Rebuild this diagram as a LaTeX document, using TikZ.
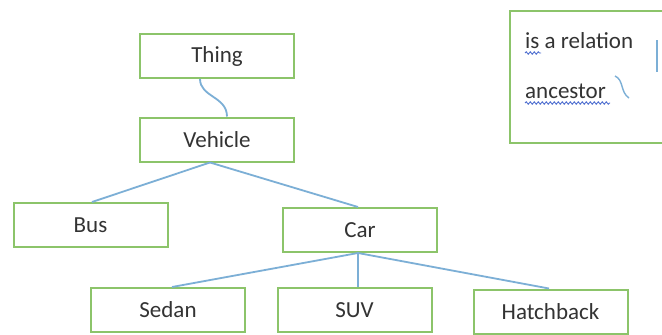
\documentclass[tikz,border=0pt]{standalone}
\usepackage{fontspec}
\setmainfont{Carlito}
\usetikzlibrary{decorations.pathmorphing}
\definecolor{boxgreen}{HTML}{8CC46A}
\definecolor{linkblue}{HTML}{7CAFD6}
\definecolor{txtgray}{HTML}{333333}
\definecolor{spellblue}{HTML}{4F6FD0}
\tikzset{
  classbox/.style={draw=boxgreen, line width=2pt, fill=white, minimum width=154pt, minimum height=44pt, inner sep=0pt, text=txtgray, font=\fontsize{23}{27}\selectfont},
  link/.style={draw=linkblue, line width=1.8pt},
  lbl/.style={inner sep=0pt, anchor=base west, text=txtgray, font=\fontsize{23}{27}\selectfont},
  spell/.style={draw=spellblue, line width=0.9pt, decorate, decoration={snake, amplitude=1.2pt, segment length=4pt}}
}
\begin{document}
\begin{tikzpicture}[x=1pt,y=-1pt]
\useasboundingbox (0,0) rectangle (662,335);
\clip (0,0) rectangle (662,335);
\fill[white] (0,0) rectangle (662,335);
% nodes
\node[classbox] (thing) at (217,56) {Thing};
\node[classbox] (vehicle) at (217,139.5) {Vehicle};
\node[classbox] (bus) at (90.5,225) {Bus};
\node[classbox] (car) at (360,230) {Car};
\node[classbox] (sedan) at (168,310) {Sedan};
\node[classbox] (suv) at (354.5,310) {SUV};
\node[classbox] (hatch) at (550.5,311.5) {Hatchback};
% legend
\node[draw=boxgreen, line width=2pt, minimum width=170pt, minimum height=132pt, inner sep=0pt, anchor=north west] (legend) at (509,10) {};
\node[lbl] (rel) at (525,48) {is a relation};
\node[lbl] (anc) at (525,98) {ancestor};
\coordinate (relA) at (657,40);
\coordinate (relB) at (657,72);
\draw[link, line width=1.4pt] (relA) -- (relB);
\coordinate (ancA) at (615,76);
\coordinate (ancB) at (629,98);
\draw[link, line width=1.4pt] (ancA) .. controls (624,80) and (620,92) .. (ancB);
\draw[spell] ([yshift=-5pt]rel.base west) -- ++(16,0);
\draw[spell] ([yshift=-5pt]anc.base west) -- ++(85,0);
% connectors
\draw[link] ([xshift=-17pt]thing.south) .. controls +(0,18) and +(0,-20) .. ([xshift=10pt]vehicle.north);
\draw[link] ([xshift=-7pt]vehicle.south) -- ([xshift=1.5pt]bus.north);
\draw[link] ([xshift=-7pt]vehicle.south) -- ([xshift=-2pt]car.north);
\draw[link] ([xshift=-2pt]car.south) -- ([xshift=4pt]sedan.north);
\draw[link] ([xshift=-2pt]car.south) -- ([xshift=3.5pt]suv.north);
\draw[link] ([xshift=-2pt]car.south) -- ([xshift=-1.5pt]hatch.north);
\end{tikzpicture}
\end{document}
